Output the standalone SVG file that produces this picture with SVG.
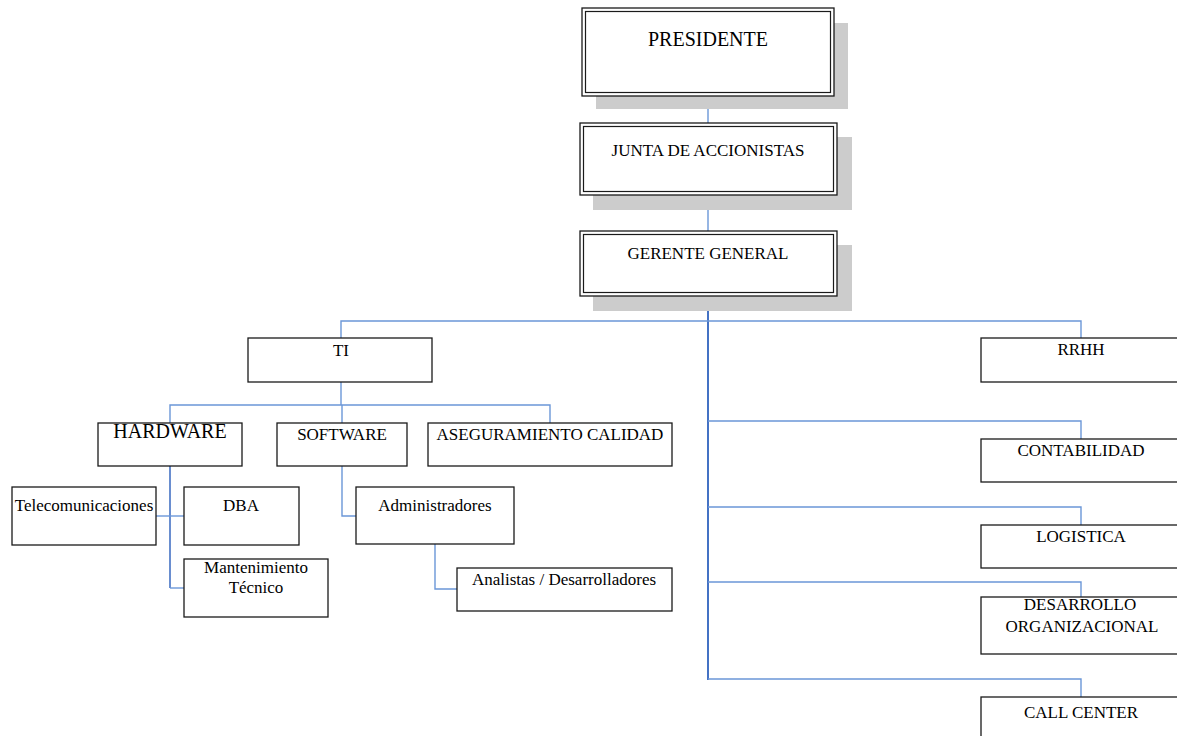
<svg xmlns="http://www.w3.org/2000/svg" width="1177" height="736" viewBox="0 0 1177 736">
<style>
.bg{fill:#ffffff}
.shadow{fill:#cccccc}
.box{fill:#ffffff;stroke:#1a1a1a;stroke-width:1.3}
.dbl{fill:none;stroke:#1a1a1a;stroke-width:1.2}
.t{font-family:"Liberation Serif","Times New Roman",serif;font-size:17px;fill:#000;text-anchor:middle}
.big{font-size:20px}
.c{fill:none;stroke:#6b97d8;stroke-width:1.4}
.trunk{fill:none;stroke:#4472c4;stroke-width:2}
</style>
<rect class="bg" x="0" y="0" width="1177" height="736"/>
<g id="connectors">
<line class="c" x1="708" y1="94" x2="708" y2="123"/>
<line class="c" x1="708" y1="195" x2="708" y2="231"/>
<line class="trunk" x1="708" y1="296" x2="708" y2="680"/>
<polyline class="c" points="341,338 341,321 1081,321 1081,338"/>
<polyline class="c" points="708,421 1081,421 1081,439"/>
<polyline class="c" points="708,507 1081,507 1081,525"/>
<polyline class="c" points="708,582 1081,582 1081,597"/>
<polyline class="c" points="708,679 1081,679 1081,697"/>
<line class="c" x1="341" y1="382" x2="341" y2="405"/>
<polyline class="c" points="170,423 170,405 550,405 550,423"/>
<line class="c" x1="342" y1="405" x2="342" y2="423"/>
<line class="trunk" x1="170" y1="466" x2="170" y2="588" style="stroke-width:1.6"/>
<line class="c" x1="156" y1="516" x2="184" y2="516"/>
<line class="c" x1="170" y1="588" x2="184" y2="588"/>
<polyline class="c" points="342,466 342,516 356,516"/>
<polyline class="c" points="435,544 435,589 457,589"/>
</g>
<g id="presidente">
<rect class="shadow" x="596" y="23" width="252" height="86"/>
<rect class="box" x="582" y="8" width="252" height="88"/>
<rect class="dbl" x="585.5" y="11.5" width="245" height="81"/>
<text class="t big" x="708" y="46">PRESIDENTE</text>
</g>
<g id="junta">
<rect class="shadow" x="593" y="137" width="259" height="73"/>
<rect class="box" x="580" y="123" width="257" height="72"/>
<rect class="dbl" x="583.5" y="126.5" width="250" height="65"/>
<text class="t" x="708" y="156">JUNTA DE ACCIONISTAS</text>
</g>
<g id="gerente">
<rect class="shadow" x="593" y="245" width="259" height="66"/>
<rect class="box" x="580" y="231" width="257" height="65"/>
<rect class="dbl" x="583.5" y="234.5" width="250" height="58"/>
<text class="t" x="708" y="259">GERENTE GENERAL</text>
</g>
<g id="ti">
<rect class="box" x="248" y="338" width="184" height="44"/>
<text class="t" x="341" y="356">TI</text>
</g>
<g id="hardware">
<rect class="box" x="98" y="423" width="144" height="43"/>
<text class="t big" x="170" y="438">HARDWARE</text>
</g>
<g id="software">
<rect class="box" x="277" y="423" width="130" height="43"/>
<text class="t" x="342" y="440">SOFTWARE</text>
</g>
<g id="aseguramiento">
<rect class="box" x="428" y="423" width="244" height="43"/>
<text class="t" x="550" y="440">ASEGURAMIENTO CALIDAD</text>
</g>
<g id="telecomunicaciones">
<rect class="box" x="12" y="487" width="144" height="58"/>
<text class="t" x="84" y="511">Telecomunicaciones</text>
</g>
<g id="dba">
<rect class="box" x="184" y="487" width="115" height="58"/>
<text class="t" x="241" y="511">DBA</text>
</g>
<g id="mantenimiento">
<rect class="box" x="184" y="559" width="144" height="58"/>
<text class="t" x="256" y="573">Mantenimiento</text>
<text class="t" x="256" y="593">Técnico</text>
</g>
<g id="administradores">
<rect class="box" x="356" y="487" width="158" height="57"/>
<text class="t" x="435" y="511">Administradores</text>
</g>
<g id="analistas">
<rect class="box" x="457" y="568" width="215" height="43"/>
<text class="t" x="564" y="585">Analistas / Desarrolladores</text>
</g>
<g id="rrhh">
<rect class="box" x="981" y="338" width="210" height="44"/>
<text class="t" x="1081" y="355">RRHH</text>
</g>
<g id="contabilidad">
<rect class="box" x="981" y="439" width="210" height="43"/>
<text class="t" x="1081" y="456">CONTABILIDAD</text>
</g>
<g id="logistica">
<rect class="box" x="981" y="525" width="210" height="43"/>
<text class="t" x="1081" y="542">LOGISTICA</text>
</g>
<g id="desarrollo">
<rect class="box" x="981" y="597" width="210" height="57"/>
<text class="t" x="1080" y="610">DESARROLLO</text>
<text class="t" x="1082" y="632">ORGANIZACIONAL</text>
</g>
<g id="callcenter">
<rect class="box" x="981" y="697" width="210" height="50"/>
<text class="t" x="1081" y="718">CALL CENTER</text>
</g>
</svg>
